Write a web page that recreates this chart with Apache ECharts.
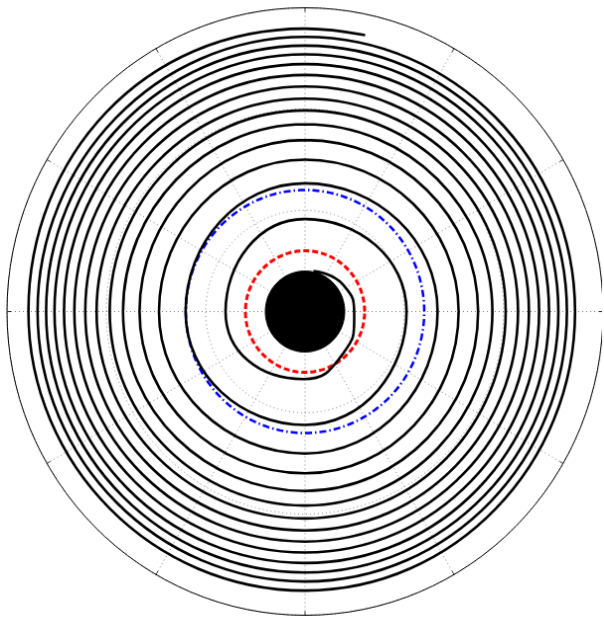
<!DOCTYPE html>
<html>
<head>
<meta charset="utf-8">
<script src="https://cdn.jsdelivr.net/npm/echarts@6/dist/echarts.min.js"></script>
<style>
html,body{margin:0;padding:0;background:#fff;overflow:hidden;}
/* the reference plot is very slightly taller than wide */
#chart{width:604px;height:618px;transform:scale(0.9935,1.0125);transform-origin:305px 311.5px;}
</style>
</head>
<body>
<div id="chart"></div>
<script>
// Spiral crossings (radius in units of M), outer turn first
const startPoint = [13.98, 77.5];            // [radius, angle deg]
const rAt90  = [13.97, 13.56, 13.13, 12.70, 12.22, 11.68, 11.11, 10.51, 9.93, 9.25, 8.47, 7.50, 6.33, 4.57];
const rAt180 = [13.92, 13.46, 13.03, 12.61, 12.13, 11.61, 11.06, 10.49, 9.83, 9.16, 8.33, 7.35, 6.01, 4.00];
const rAt270 = [13.78, 13.33, 12.89, 12.42, 11.90, 11.36, 10.81, 10.22, 9.58, 8.86, 7.99, 7.01, 5.60];
const rAt0   = [13.59, 13.18, 12.75, 12.28, 11.78, 11.27, 10.72, 10.10, 9.43, 8.71, 7.73, 6.67, 5.11];
// last loop and plunge into the horizon: [radius, angle deg]
const innerTail = [[3.34, 268.6], [2.82, 313], [2.49, 354], [2.33, 34], [2.04, 78]];

const horizonR = 2;      // black disk
const photonR = 3;       // red dashed circle
const iscoR = 6;         // blue dash-dot circle
const rMax = 15;

function circle(r) {
  const pts = [];
  for (let a = 0; a <= 360; a += 2) pts.push([r, a]);
  return pts;
}

const spiral = [startPoint];
for (let i = 0; i < rAt90.length; i++) {
  spiral.push([rAt90[i], 90]);
  spiral.push([rAt180[i], 180]);
  if (i < rAt270.length) spiral.push([rAt270[i], 270]);
  if (i < rAt0.length) spiral.push([rAt0[i], 360]);
}
innerTail.forEach(p => spiral.push(p));

const chart = echarts.init(document.getElementById('chart'), null, {renderer: 'canvas'});
chart.setOption({
  animation: false,
  backgroundColor: '#fff',
  polar: { center: [305, 311.5], radius: 300 },
  angleAxis: {
    type: 'value', min: 0, max: 360, interval: 30,
    startAngle: 0, clockwise: false,
    axisLine: { show: true, lineStyle: { color: '#000', width: 1 } },
    axisTick: { show: true, inside: true, length: 4, lineStyle: { color: '#000', width: 0.8 } },
    axisLabel: { show: false },
    splitLine: { show: true, lineStyle: { color: '#666', width: 0.8, type: [1, 3] } }
  },
  radiusAxis: {
    type: 'value', min: 0, max: rMax, interval: 5,
    axisLine: { show: false }, axisTick: { show: false }, axisLabel: { show: false },
    splitLine: { show: true, lineStyle: { color: '#666', width: 0.8, type: [1, 3] } }
  },
  series: [
    {
      type: 'line', coordinateSystem: 'polar', data: circle(horizonR),
      symbol: 'none', lineStyle: { color: '#000', width: 1 },
      areaStyle: { color: '#000', opacity: 1 }, z: 5
    },
    {
      type: 'line', coordinateSystem: 'polar', data: circle(photonR),
      symbol: 'none', lineStyle: { color: '#ff0000', width: 3, type: [6, 3] }, z: 4
    },
    {
      type: 'line', coordinateSystem: 'polar', data: circle(iscoR),
      symbol: 'none', lineStyle: { color: '#0000ff', width: 2.5, type: [7, 3, 1.5, 3] }, z: 4
    },
    {
      type: 'line', coordinateSystem: 'polar', data: spiral,
      symbol: 'none', smooth: 0.55, lineStyle: { color: '#000', width: 2.6 }, z: 6
    }
  ]
});
</script>
</body>
</html>
